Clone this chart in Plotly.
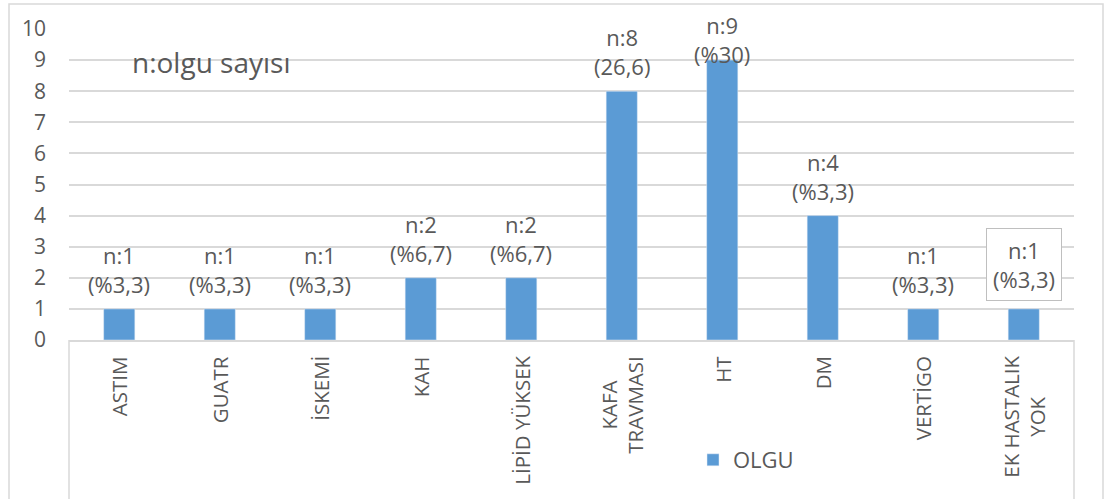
import plotly.graph_objects as go

categories = ["ASTIM", "GUATR", "İSKEMİ", "KAH", "LİPİD YÜKSEK", "KAFA<br>TRAVMASI",
              "HT", "DM", "VERTİGO", "EK HASTALIK<br>YOK"]
values = [1, 1, 1, 2, 2, 8, 9, 4, 1, 1]
bar_labels = ["n:1<br>(%3,3)", "n:1<br>(%3,3)", "n:1<br>(%3,3)", "n:2<br>(%6,7)", "n:2<br>(%6,7)",
              "n:8<br>(26,6)", "n:9<br>(%30)", "n:4<br>(%3,3)", "n:1<br>(%3,3)", "n:1<br>(%3,3)"]
boxed_label = [False] * 9 + [True]
series_name = "OLGU"
y_ticks = list(range(0, 11))

W, H = 1105, 499
ML, MR, MT, MB = 69, 31, 29, 159
PW, PH = W - ML - MR, H - MT - MB
FONT = "Open Sans"
TXT = "#595959"
GRID = "#d9d9d9"
BAR = "#5b9bd5"

fig = go.Figure()
fig.add_trace(go.Bar(x=categories, y=values, name=series_name, marker_color=BAR,
                     width=0.31, showlegend=True))

ymax = 10
px_per_unit = PH / ymax
annotations = []
for c, v, t, b in zip(categories, values, bar_labels, boxed_label):
    label_h = 70
    if v * px_per_unit + 9 + label_h > PH + MT - 12:
        annotations.append(dict(x=c, y=ymax, xref="x", yref="y", text=t, showarrow=False,
                                yanchor="top", yshift=21, font=dict(family=FONT, size=22, color=TXT)))
    else:
        a = dict(x=c, y=v, xref="x", yref="y", text=t, showarrow=False,
                 yanchor="bottom", yshift=8, font=dict(family=FONT, size=22, color=TXT))
        if b:
            a.update(bordercolor="#bfbfbf", borderwidth=1, borderpad=6, bgcolor="white")
        annotations.append(a)

# category labels, rotated, lines centred like the reference
for c in categories:
    annotations.append(dict(x=c, y=0, xref="x", yref="paper", text=c, showarrow=False,
                            textangle=-90, xanchor="center", yanchor="top", yshift=-14,
                            align="center", font=dict(family=FONT, size=20.5, color=TXT)))

annotations.append(dict(x=(211 - ML) / PW, y=(MT + PH - 62) / PH, xref="paper", yref="paper",
                        text="n:olgu sayısı", showarrow=False, xanchor="center", yanchor="middle",
                        font=dict(family=FONT, size=28, color=TXT)))

def px_x(p):
    return (p - ML) / PW

def px_y(p):
    return (MT + PH - p) / PH

shapes = [
    dict(type="rect", xref="paper", yref="paper", x0=px_x(9), x1=px_x(1103), y0=px_y(520), y1=px_y(4),
         line=dict(color=GRID, width=1.5), fillcolor="rgba(0,0,0,0)", layer="below"),
    dict(type="line", xref="paper", yref="paper", x0=0, x1=0, y0=0, y1=px_y(520),
         line=dict(color=GRID, width=1.5)),
    dict(type="line", xref="paper", yref="paper", x0=1, x1=1, y0=0, y1=px_y(520),
         line=dict(color=GRID, width=1.5)),
]

fig.update_layout(
    width=W, height=H, margin=dict(l=ML, r=MR, t=MT, b=MB, autoexpand=False),
    paper_bgcolor="white", plot_bgcolor="white",
    font=dict(family=FONT, size=21, color=TXT),
    bargap=0.69,
    xaxis=dict(showticklabels=False, showgrid=False, showline=True, linecolor=GRID, linewidth=1.5,
               ticks="", fixedrange=True),
    yaxis=dict(range=[0, ymax], tickvals=y_ticks, showgrid=True, gridcolor=GRID, gridwidth=1.5,
               zeroline=False, showline=False, ticks="", ticklabelstandoff=22,
               tickfont=dict(family=FONT, size=21, color=TXT), fixedrange=True),
    legend=dict(orientation="h", x=px_x(693), y=px_y(460), xanchor="left", yanchor="middle",
                font=dict(family=FONT, size=22, color=TXT), bgcolor="rgba(0,0,0,0)"),
    annotations=annotations,
    shapes=shapes,
)

fig.write_html("out.html")
